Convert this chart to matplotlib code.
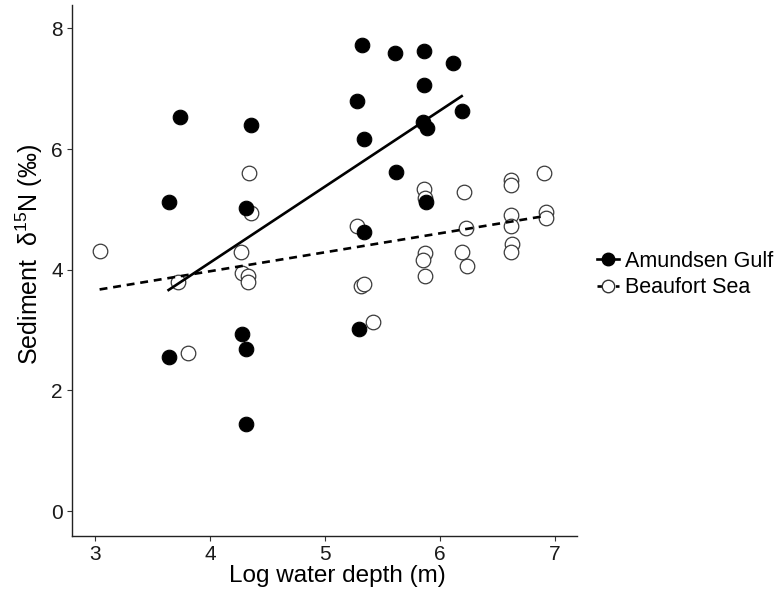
"""Sediment d15N vs log water depth, Amundsen Gulf vs Beaufort Sea."""

import matplotlib
matplotlib.use("Agg")
import matplotlib.pyplot as plt
from matplotlib.lines import Line2D
import numpy as np

plt.rcParams["font.family"] = ["Liberation Sans", "DejaVu Sans"]
plt.rcParams["mathtext.fontset"] = "custom"
plt.rcParams["mathtext.rm"] = "Liberation Sans"
plt.rcParams["mathtext.it"] = "Liberation Sans:italic"

# Amundsen Gulf (filled)
ag_depth = [3.74, 3.64, 4.36, 4.31, 5.32, 5.28, 5.34, 5.34, 5.61, 5.62, 5.86,
            5.86, 5.85, 5.89, 5.88, 6.11, 6.19, 3.64, 4.28, 4.31, 4.31, 5.30]
ag_d15n = [6.53, 5.12, 6.40, 5.02, 7.73, 6.80, 6.17, 4.62, 7.59, 5.62, 7.62,
           7.06, 6.44, 6.34, 5.13, 7.42, 6.63, 2.55, 2.93, 2.69, 1.44, 3.01]

# Beaufort Sea (open)
bs_depth = [3.04, 3.72, 4.34, 4.36, 4.27, 4.28, 4.33, 4.33, 5.28, 5.31, 5.34,
            5.86, 5.87, 5.87, 5.85, 5.87, 6.21, 6.23, 6.19, 6.24, 6.62, 6.62,
            6.62, 6.62, 6.63, 6.62, 6.91, 6.92, 6.92, 3.81, 5.42]
bs_d15n = [4.31, 3.79, 5.61, 4.94, 4.30, 3.95, 3.90, 3.80, 4.72, 3.73, 3.76,
           5.34, 5.19, 4.28, 4.16, 3.90, 5.28, 4.69, 4.29, 4.06, 5.48, 5.41,
           4.91, 4.73, 4.43, 4.29, 5.60, 4.96, 4.86, 2.62, 3.14]


def _fit(x, y):
    x = np.asarray(x)
    slope, icpt = np.polyfit(x, np.asarray(y), 1)
    xs = np.array([x.min(), x.max()])
    return xs, icpt + slope * xs


fig = plt.figure(figsize=(7.79, 5.98), dpi=100)
ax = fig.add_axes([0.092, 0.104, 0.649, 0.888])

ax.scatter(ag_depth, ag_d15n, s=110, facecolor="black", edgecolor="black",
           linewidth=0.8, zorder=3)
ax.scatter(bs_depth, bs_d15n, s=110, facecolor="white", edgecolor="#3a3a3a",
           linewidth=0.9, zorder=2)

xs, ys = _fit(ag_depth, ag_d15n)
ax.plot(xs, ys, color="black", linewidth=1.9, zorder=4)
xs, ys = _fit(bs_depth, bs_d15n)
ax.plot(xs, ys, color="black", linewidth=1.9, linestyle=(0, (3, 2.2)), zorder=4)

ax.set_xlim(2.797, 7.195)
ax.set_ylim(-0.41, 8.39)
ax.set_xticks([3, 4, 5, 6, 7])
ax.set_yticks([0, 2, 4, 6, 8])
ax.tick_params(labelsize=15, length=3.5, width=0.8, colors="#333333",
               labelcolor="#1a1a1a", pad=3)
for side in ("top", "right"):
    ax.spines[side].set_visible(False)
for side in ("left", "bottom"):
    ax.spines[side].set_linewidth(1.0)
    ax.spines[side].set_color("#222222")

ax.set_xlabel("Log water depth (m)", fontsize=17.5, labelpad=1)
ax.xaxis.label.set_x(0.526)
ax.set_ylabel("Sediment  \u03b4$^{15}$N (\u2030)", fontsize=18)
ax.yaxis.set_label_coords(-0.053, 0.53)

handles = [
    Line2D([], [], color="black", marker="o", markersize=9, linewidth=1.9,
           markerfacecolor="black"),
    Line2D([], [], color="black", marker="o", markersize=9, linewidth=1.9,
           linestyle=(0, (2, 1.5)), markerfacecolor="white",
           markeredgecolor="#333333"),
]
fig.legend(handles, ["Amundsen Gulf", "Beaufort Sea"], loc="center left",
           bbox_to_anchor=(0.742, 0.541), frameon=False, fontsize=15.5,
           handlelength=1.0, handletextpad=0.3, labelspacing=0.25)

fig.savefig("out.png", dpi=100)
